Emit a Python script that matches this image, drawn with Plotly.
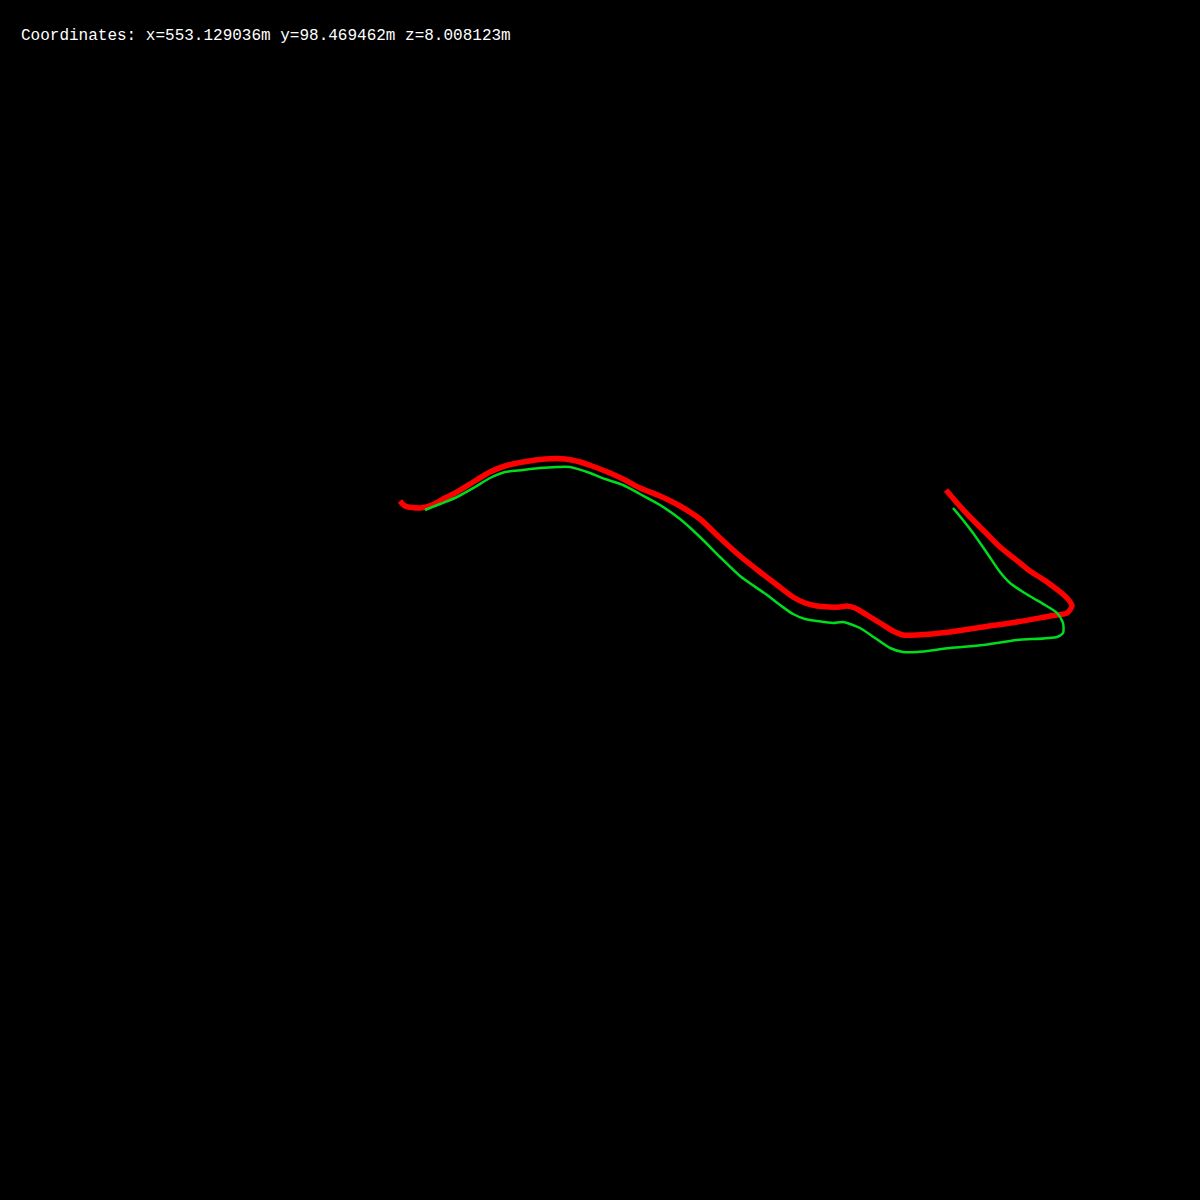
import plotly.graph_objects as go

# Trajectory estimate (red) in screen coordinates
red_x = [400, 405, 420, 432, 445, 457, 475, 490, 505, 523, 545, 565, 580, 592, 610, 625, 640, 660,
         680, 700, 720, 740, 760, 777, 793, 805, 817, 830, 840, 847, 855, 867, 880, 893,
         903, 917, 950, 983, 1017, 1050, 1067, 1072, 1067, 1047, 1030, 1020, 1000, 985, 970, 958, 946]
red_y = [501, 506, 508, 505, 498, 492, 481, 472, 466, 462, 459, 459, 462, 466, 473, 480, 488, 496,
         506, 519, 538, 556, 572, 585, 597, 603, 606, 607, 607, 606, 608, 615, 623, 631,
         635, 635, 632, 627, 622, 616, 613, 606, 598, 582, 571, 563, 547, 532, 517, 504, 490]

# Ground truth (green)
green_x = [425, 440, 457, 475, 490, 505, 523, 540, 557, 570, 590, 605, 623, 640, 660, 680, 700,
           720, 740, 767, 780, 793, 805, 817, 833, 843, 860, 875, 890, 903, 917, 950, 983,
           1017, 1057, 1063, 1063, 1057, 1045, 1033, 1023, 1010, 1000, 987, 973, 963, 953]
green_y = [510, 504, 497, 487, 478, 472, 470, 468, 467, 467, 473, 479, 485, 494, 505, 519, 537,
           557, 576, 595, 605, 614, 619, 621, 623, 622, 628, 638, 648, 652, 652, 648, 645,
           640, 637, 633, 623, 613, 605, 598, 592, 583, 572, 553, 533, 520, 508]

coord_text = "Coordinates: x=553.129036m y=98.469462m z=8.008123m"

fig = go.Figure()
fig.add_trace(go.Scatter(x=red_x, y=red_y, mode="lines",
                         line=dict(color="#ff0000", width=5.5, shape="spline", smoothing=0.7),
                         hoverinfo="skip"))
fig.add_trace(go.Scatter(x=green_x, y=green_y, mode="lines",
                         line=dict(color="rgb(0,220,30)", width=2.5, shape="spline", smoothing=0.7),
                         hoverinfo="skip"))

fig.add_annotation(x=19, y=36, xref="x", yref="y", text=coord_text, showarrow=False,
                   xanchor="left", yanchor="middle",
                   font=dict(family="Liberation Mono, DejaVu Sans Mono, monospace", size=16, color="white"))

fig.update_layout(width=1200, height=1200, margin=dict(l=0, r=0, t=0, b=0),
                  paper_bgcolor="black", plot_bgcolor="black", showlegend=False,
                  xaxis=dict(range=[0, 1200], visible=False, fixedrange=True),
                  yaxis=dict(range=[1200, 0], visible=False, fixedrange=True))

fig.write_html("out.html", config={"displayModeBar": False})
